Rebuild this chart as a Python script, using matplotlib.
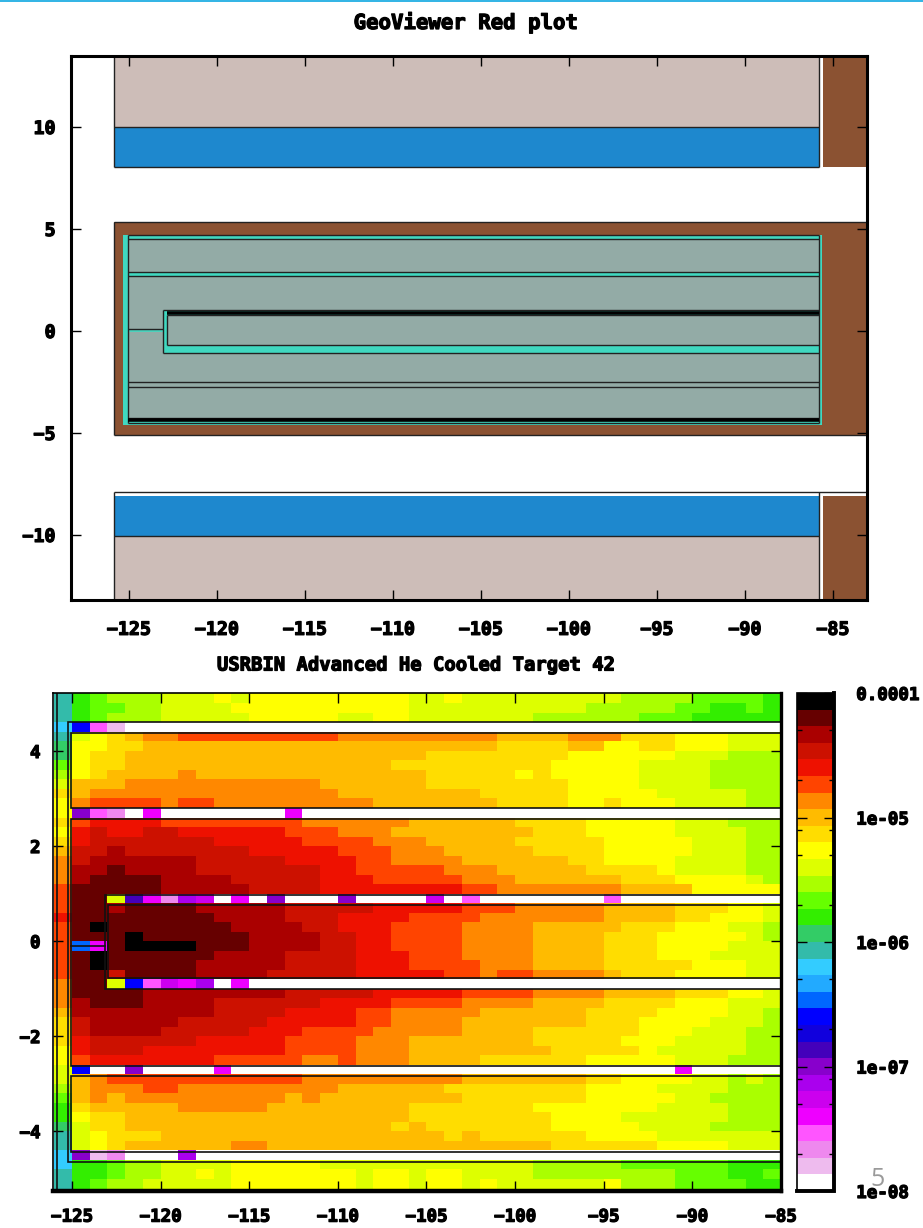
import numpy as np
import matplotlib
matplotlib.use("Agg")
import matplotlib.pyplot as plt
import matplotlib.patheffects as pe
from matplotlib.colors import ListedColormap, LogNorm
from matplotlib.lines import Line2D
from matplotlib.patches import Rectangle
from matplotlib.ticker import FixedLocator, NullFormatter

W, H = 923, 1228

# ---------- data ----------
TITLE_TOP = "GeoViewer Red plot"
TITLE_BOTTOM = "USRBIN Advanced He Cooled Target 42"

TOP_XTICKS = [-125, -120, -115, -110, -105, -100, -95, -90, -85]
TOP_YTICKS = [10, 5, 0, -5, -10]
BOTTOM_XTICKS = [-125, -120, -115, -110, -105, -100, -95, -90, -85]
BOTTOM_YTICKS = [4, 2, 0, -2, -4]
CBAR_MAJOR = [1e-4, 1e-5, 1e-6, 1e-7, 1e-8]
CBAR_LABELS = ["0.0001", "1e-05", "1e-06", "1e-07", "1e-08"]
CBAR_MINOR = [5e-5, 2e-5, 8e-6, 5e-6, 2e-6, 5e-7, 2e-7, 8e-8, 5e-8, 2e-8]

LEVEL_COLORS = ["#ffffff", "#eebbee", "#ee88ee", "#ff55ff", "#ee00ff", "#cc00ee",
                "#aa00ee", "#8800cc", "#4400bb", "#1100dd", "#0000ff", "#0066ff",
                "#22aaff", "#33ccff", "#33bbaa", "#33cc66", "#33ee00", "#66ff00",
                "#aaff00", "#ddff00", "#ffff00", "#ffdd00", "#ffbb00", "#ff8800",
                "#ff4400", "#ee1100", "#cc1100", "#aa0000", "#660000", "#000000"]
LEVEL_KEYS = "0123456789abcdefghijklmnopqrst"

# One row per 0.2 cm bin, top to bottom, as colour level + run length
ROW_RUNS = [
    "e g h i3 j3 k j k9 j2 k j9 i4 h4 g",
    "e g h2 i2 j4 k10 j10 i5 h2 g2 h g",
    "e g h i3 j5 k5 j2 k2 j7 i6 h3 g5",
    "d a 3 1 037",
    "e j k l m n2 o9 n9 m4 n3 l3 k3 j3",
    "f k2 l2 m20 l4 m2 k2 l2 k3 j3",
    "f k l2 m17 l8 k6 j3 i3",
    "h k l2 m15 l9 k5 j4 i4",
    "i k l m4 n m13 l5 k l k5 j4 i4",
    "j m3 n11 m6 l8 k4 j4 i4",
    "l m n14 m8 l5 k5 j5 i2",
    "k n o4 n o2 n9 m7 l4 k2 l k3 j4 i2",
    "k 7 3 2 0 4 07 4 027",
    "l o p4 o8 n6 m6 l4 k5 j3 i3",
    "k p q p2 q2 p6 o3 n3 m8 l3 k5 j4 i2",
    "l p q7 p5 o4 n3 m5 l5 k5 j3 i2",
    "m q2 r q7 p5 o3 n3 m5 l4 k5 j3 i2",
    "n q r6 q5 p4 o2 n4 m6 l2 k4 j4 i2",
    "n r2 s r4 q7 p2 o5 n3 m5 l4 k j4 i2",
    "n r s4 r4 q5 p3 o5 n3 m6 l3 k4 j i",
    "o s5 r5 q4 p8 o2 n7 m4 k5",
    "o s2 j 8 4 2 6 5 0 4 0 7 03 7 04 5 0 3 07 3 09",
    "o s2 r s4 r5 q5 p5 o3 n5 m4 l3 k2 j",
    "p s8 r4 q3 p4 o4 n7 m4 l2 k3 j",
    "o s t s7 r4 q2 p3 o4 n4 m5 l3 k3 j2 i",
    "o s3 t s6 r4 q2 p2 o4 n4 m4 l3 k5 j i",
    "o b 4 s t4 s3 r4 q2 p2 o4 n4 m4 l3 k4 j3",
    "o s t s6 r4 q4 p3 o3 n4 m4 l3 k3 j4",
    "o s t s5 r5 q4 p3 o4 n3 m4 l5 k3 j2",
    "o s2 q s4 r4 q5 p5 o2 n o2 n4 m l3 k4 j2",
    "n s2 j a 3 5 4 6 0 4 030",
    "n s4 r8 q5 p5 o4 n4 m4 l3 k2 j",
    "n r s3 r4 q6 p4 o4 n4 m4 l4 k3 j3",
    "m r8 q4 p4 o2 n5 m6 l4 k4 j2 i",
    "l q r5 q5 p5 o2 n4 m7 l3 k4 j3 i",
    "l q r4 q5 p3 o4 n5 m4 l6 k3 j3 i2",
    "l p q6 p5 o4 n3 m7 l5 k3 j4 i2",
    "k p q3 p8 o4 n3 m8 l5 k j3 j2 i2",
    "k o p7 o5 n2 o n3 m4 l6 k5 j3 i3",
    "j a 02 7 04 4 025 4 05",
    "j m n o11 n9 m7 l2 k4 j2 i j i",
    "i m n3 o2 n9 m6 l8 k4 j4 i3",
    "h m n m n9 m n m8 l7 k5 j2 i4",
    "g l m5 n5 m8 l7 k7 j4 i3",
    "g k l2 m16 l8 k4 j6 i3",
    "f j l2 m15 l m l7 k5 j4 i4",
    "e j k l3 m16 l m l6 k4 j7",
    "e j k l m6 n2 m7 m9 l6 k4 j3",
    "d 7 1 2 03 6 033",
    "d g2 h i2 j4 k5 j12 i5 h6 g3",
    "e g2 h i2 j2 k j k7 j k2 j k2 j4 i8 h3 g2 h",
    "e g h i2 j5 k7 j k2 j k2 j k j2 j4 k i3 h4 g2",
]

# Bin edges of the scoring mesh
MESH_X = np.arange(-126.0, -84.5, 1.0)
MESH_Y = np.concatenate(([5.3], np.arange(5.0, -5.01, -0.2), [-5.3]))

# Geometry of the top view: x0, x1, y0, y1
BEIGE = [(-125.85, -85.8, 10.0, 13.48), (-125.85, -85.8, -13.19, -10.05)]
BLUE = [(-125.85, -85.8, 8.04, 10.0), (-125.85, -85.8, -10.05, -8.09)]
BROWN = [(-85.57, -83.07, 8.04, 13.48), (-85.57, -83.07, -13.19, -8.09),
         (-125.85, -83.07, -5.1, 5.34)]
TEAL = [(-125.34, -85.62, -4.61, 4.71)]
GREY = [(-125.06, -85.8, 2.89, 4.51), (-125.06, -85.8, 1.03, 2.70),
        (-125.06, -123.07, -1.08, 1.03), (-125.06, -85.8, -2.75, -1.08),
        (-125.06, -85.8, -4.26, -2.75), (-122.84, -85.8, -0.69, 0.78)]
TOP_BLACK = [
    ([-125.85, -125.85], [13.48, 8.04]),
    ([-85.8, -85.8], [13.48, 8.04]),
    ([-125.85, -85.8], [10.0, 10.0]),
    ([-125.85, -85.8], [8.04, 8.04]),
    ([-125.85, -83.07], [5.34, 5.34]),
    ([-125.85, -83.07], [-5.1, -5.1]),
    ([-125.85, -125.85], [5.34, -5.1]),
    ([-125.85, -83.07], [-7.89, -7.89]),
    ([-125.85, -125.85], [-7.89, -13.19]),
    ([-85.8, -85.8], [-7.89, -13.19]),
    ([-125.85, -85.8], [-10.05, -10.05]),
    ([-125.06, -85.8], [4.51, 4.51]),
    ([-125.06, -85.8], [4.71, 4.71]),
    ([-125.06, -85.8], [2.89, 2.89]),
    ([-125.06, -85.8], [2.70, 2.70]),
    ([-125.06, -85.8], [-2.5, -2.5]),
    ([-125.06, -85.8], [-2.75, -2.75]),
    ([-125.06, -85.8], [-4.26, -4.26]),
    ([-125.06, -85.8], [-4.51, -4.51]),
    ([-125.06, -125.06], [4.71, -4.51]),
    ([-85.8, -85.8], [4.71, -4.51]),
    ([-123.07, -85.8], [1.03, 1.03]),
    ([-122.84, -85.8], [0.78, 0.78]),
    ([-122.84, -85.8], [-0.69, -0.69]),
    ([-123.07, -85.8], [-1.08, -1.08]),
    ([-123.07, -123.07], [1.03, -1.08]),
    ([-122.84, -122.84], [0.78, -0.69]),
    ([-125.06, -123.07], [0.08, 0.08]),
]
THICK_BLACK = [([-122.84, -85.8], [0.9, 0.9]), ([-125.06, -85.8], [-4.36, -4.36])]
TEAL_LINES = [([-125.06, -123.07], [-0.02, -0.02])]

# Geometry outlines over the fluence map
MAP_LINES = [
    ([-85, -125.23, -125.23, -85], [4.61, 4.61, -4.65, -4.65]),
    ([-85, -125.06, -125.06, -85], [4.38, 4.38, 2.8, 2.8]),
    ([-85, -125.06, -125.06, -85], [2.57, 2.57, -2.63, -2.63]),
    ([-85, -123.14, -123.14, -85], [0.97, 0.97, -1.01, -1.01]),
    ([-85, -122.97, -122.97, -85], [0.76, 0.76, -0.78, -0.78]),
    ([-85, -125.06, -125.06, -85], [-2.84, -2.84, -4.44, -4.44]),
    ([-125.06, -123.14], [-0.1, -0.1]),
    ([-125.85, -125.85], [5.22, -5.26]),
]


def decode(run):
    out = []
    for tok in run.split():
        count = int(tok[1:]) if len(tok) > 1 else 1
        out.extend([LEVEL_KEYS.index(tok[0])] * count)
    out = out[:41]
    out += [out[-1]] * (41 - len(out))
    return out


levels = np.array([decode(r) for r in ROW_RUNS], dtype=float)
fluence = 1e-8 * 10 ** ((levels + 0.5) * 4 / 30)

# ---------- figure ----------
plt.rcParams["font.family"] = "DejaVu Sans Mono"
plt.rcParams["font.weight"] = "bold"
TICK_FS = 13.2
HEAVY = [pe.withStroke(linewidth=0.9, foreground="black")]
fig = plt.figure(figsize=(W / 100, H / 100), dpi=100, facecolor="white")


def rect(l, t, r, b):
    return [l / W, 1 - b / H, (r - l) / W, (b - t) / H]


def fill(ax, spec, color, z):
    for x0, x1, y0, y1 in spec:
        ax.add_patch(Rectangle((x0, y0), x1 - x0, y1 - y0, fc=color, ec="none", zorder=z))


def heavy_ticks(ax):
    for t in ax.get_xticklabels() + ax.get_yticklabels():
        t.set_path_effects(HEAVY)


# --- top panel ---
ax1 = fig.add_axes(rect(71, 56, 867, 600))
ax1.set_xlim(-128.3, -83.07)
ax1.set_ylim(-13.19, 13.48)
fill(ax1, BEIGE, "#cdbdb8", 1)
fill(ax1, BLUE, "#1e88ce", 1)
fill(ax1, BROWN, "#8b5232", 1)
fill(ax1, TEAL, "#40d8c0", 2)
fill(ax1, GREY, "#93aba6", 3)
for xs, ys in TEAL_LINES:
    ax1.plot(xs, ys, color="#40d8c0", lw=1.2, zorder=4, solid_capstyle="butt")
for xs, ys in TOP_BLACK:
    ax1.plot(xs, ys, color="#222222", lw=1.0, zorder=5, solid_capstyle="butt")
for xs, ys in THICK_BLACK:
    ax1.plot(xs, ys, color="black", lw=2.6, zorder=5, solid_capstyle="butt")
ax1.set_xticks(TOP_XTICKS)
ax1.set_yticks(TOP_YTICKS)
ax1.tick_params(axis="x", direction="in", length=7, width=1, top=True, bottom=True,
                pad=15, labelsize=TICK_FS)
ax1.tick_params(axis="y", direction="in", length=7, width=1, left=True, right=True,
                pad=11, labelsize=TICK_FS)
for s in ax1.spines.values():
    s.set_linewidth(2.2)
    s.set_zorder(20)
heavy_ticks(ax1)
fig.text(465 / W, 1 - 22 / H, TITLE_TOP, ha="center", va="center", fontsize=14.9,
         fontweight="bold", path_effects=HEAVY)

# --- bottom panel ---
ax2 = fig.add_axes(rect(53, 693, 781, 1191))
ax2.set_xlim(-126.07, -85)
ax2.set_ylim(-5.26, 5.22)
cmap = ListedColormap(LEVEL_COLORS)
norm = LogNorm(vmin=1e-8, vmax=1e-4)
mesh = ax2.pcolormesh(MESH_X, MESH_Y, fluence, cmap=cmap, norm=norm, shading="flat",
                      edgecolors="none", antialiased=False)
for xs, ys in MAP_LINES:
    ax2.plot(xs, ys, color="#111111", lw=1.2, zorder=5, solid_joinstyle="miter")
ax2.set_xticks(BOTTOM_XTICKS)
ax2.set_yticks(BOTTOM_YTICKS)
ax2.tick_params(axis="x", direction="in", length=7, width=1, top=True, bottom=True,
                pad=12, labelsize=TICK_FS - 0.6, zorder=10)
ax2.tick_params(axis="y", direction="in", length=7, width=1, left=True, right=True,
                pad=9, labelsize=TICK_FS - 0.6, zorder=10)
for side, lw in (("top", 1.2), ("left", 1.2), ("right", 2.4), ("bottom", 3.2)):
    ax2.spines[side].set_linewidth(lw)
    ax2.spines[side].set_zorder(20)
heavy_ticks(ax2)
fig.text(416 / W, 1 - 665 / H, TITLE_BOTTOM, ha="center", va="center", fontsize=13.6,
         fontweight="bold", path_effects=HEAVY)

# --- colour bar ---
cax = fig.add_axes(rect(797, 693, 834, 1191))
cb = fig.colorbar(mesh, cax=cax)
cb.set_ticks(CBAR_MAJOR, labels=CBAR_LABELS)
cax.yaxis.set_minor_locator(FixedLocator(CBAR_MINOR))
cax.yaxis.set_minor_formatter(NullFormatter())
cax.tick_params(which="major", axis="y", direction="in", length=7, width=1, left=True,
                right=True, pad=16, labelsize=TICK_FS - 0.6)
cax.tick_params(which="minor", axis="y", direction="in", length=3.5, width=1, left=True,
                right=True)
cb.outline.set_linewidth(1.2)
for t in cax.get_yticklabels():
    t.set_path_effects(HEAVY)
fig.add_artist(Line2D([1, 1, 0], [1, 0, 0], transform=cax.transAxes, color="black", lw=2.8,
                      solid_joinstyle="miter"))

# --- slide furniture ---
fig.add_artist(Rectangle((0, 1 - 2 / H), 1, 2 / H, transform=fig.transFigure,
                         fc="#35b5e5", ec="none"))
fig.text(878 / W, 1 - 1179 / H, "5", ha="center", va="center", fontsize=18,
         color="#9a9a9a", family="Open Sans", fontweight="normal")

fig.savefig("out.png", dpi=100, facecolor="white")
